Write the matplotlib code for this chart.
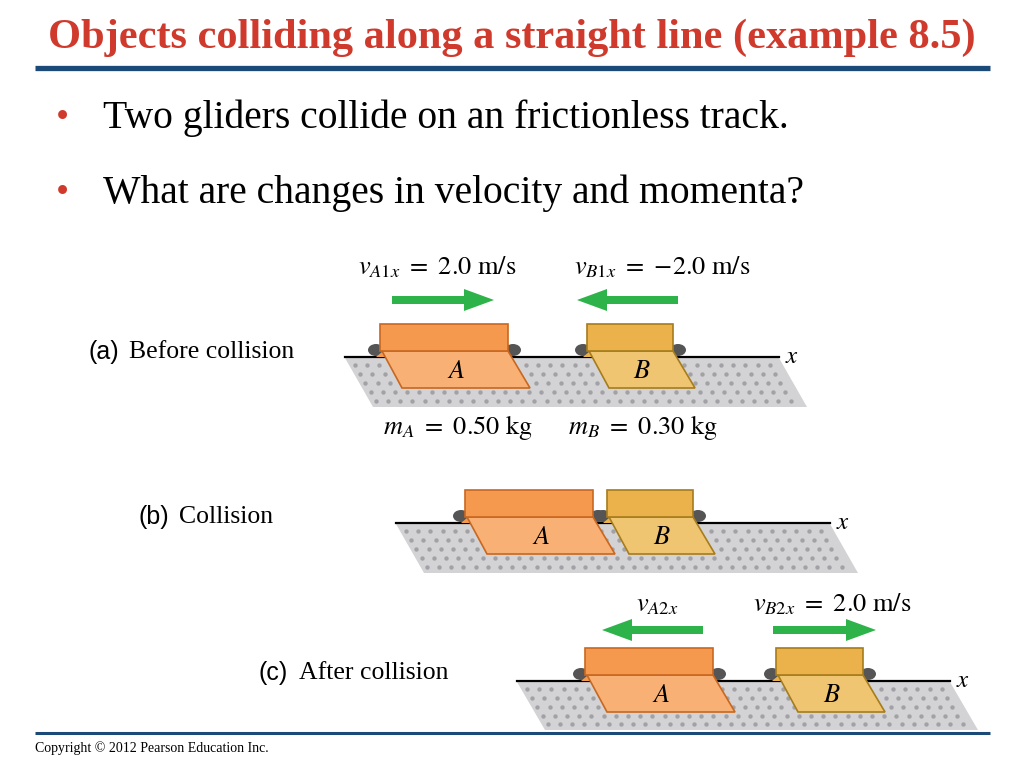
import matplotlib
matplotlib.use("Agg")
import matplotlib.pyplot as plt
from matplotlib.patches import Polygon, Rectangle, Ellipse, FancyArrow
import numpy as np

plt.rcParams['mathtext.fontset'] = 'stix'

# ---- content ----
title = "Objects colliding along a straight line (example 8.5)"
bullets = ["Two gliders collide on an frictionless track.",
           "What are changes in velocity and momenta?"]
panel_tags = ["(a)", "(b)", "(c)"]
panel_names = ["Before collision", "Collision", "After collision"]
masses = [0.50, 0.30]           # kg, A and B
v_before = [2.0, -2.0]          # m/s, A and B
v_after_B = 2.0                 # m/s
copyright_text = "Copyright \u00a9 2012 Pearson Education Inc."

RED = "#cf3a2d"
BLUE = "#1c4a78"
GREEN = "#2db34a"
A_TOP, A_LOW, A_EDGE = "#f5994f", "#f8b075", "#c9671f"
B_TOP, B_LOW, B_EDGE = "#ebb24c", "#f0c572", "#a67c1c"
GRAY, DOT = "#d3d3d5", "#a2a2a6"
BUMP = "#555555"

fig = plt.figure(figsize=(10.24, 7.68), dpi=100)
ax = fig.add_axes([0, 0, 1, 1])
ax.set_xlim(0, 1024)
ax.set_ylim(768, 0)
ax.axis('off')

serif = 'Liberation Serif'
sans = 'Liberation Sans'

# title + rules
ax.text(512, 38, title, ha='center', va='center', fontsize=30.5, color=RED,
        fontfamily=serif, fontweight='bold')
ax.plot([35, 990], [68, 68], color=BLUE, lw=3.8, solid_capstyle='butt')
ax.plot([35, 990], [733, 733], color=BLUE, lw=2.2, solid_capstyle='butt')
ax.text(35, 748, copyright_text, ha='left', va='center', fontsize=10,
        fontfamily=serif, color='black')

# bullets
for i, b in enumerate(bullets):
    y = 118 + 75 * i
    ax.text(62, y + 1, "\u2022", ha='center', va='center', fontsize=27, color=RED,
            fontfamily=serif)
    ax.text(103, y, b, ha='left', va='center', fontsize=28.5, fontfamily=serif)


def track(x0, x1, y, h=49, slant=28):
    poly = Polygon([[x0, y], [x1, y], [x1 + slant, y + h], [x0 + slant, y + h]],
                   closed=True, facecolor=GRAY, edgecolor='none', zorder=1)
    ax.add_patch(poly)
    pts = []
    k = slant / h
    for j in range(5):
        yy = y + 7 + j * (h - 10) / 4.3
        off = (yy - y) * k
        xs = np.arange(x0 + off + 6, x1 + off - 2, 12.2)
        for xx in xs:
            pts.append((xx, yy))
    pts = np.array(pts)
    ax.scatter(pts[:, 0], pts[:, 1], s=10, color=DOT, zorder=2, linewidths=0)
    ax.plot([x0, x1], [y - 1, y - 1], color='black', lw=1.6, zorder=3)
    ax.text(x1 + 13, y - 2, "$x$", ha='center', va='center', fontsize=18, zorder=3)


def glider(xl, w, ytrack, label, top, low, edge):
    ytop = ytrack - 34
    ymid = ytrack - 7
    ybot = ytrack + 30
    sl = 22
    # bumpers
    for bx in (xl - 4, xl + w + 5):
        ax.add_patch(Ellipse((bx, ymid - 1), 16, 12, facecolor=BUMP,
                             edgecolor='none', zorder=4))
    ax.add_patch(Polygon([[xl - 4, ytrack - 1], [xl + 2, ymid + 1], [xl + 6, ytrack - 1]],
                         closed=True, facecolor=top, edgecolor='none', zorder=4))
    ax.add_patch(Polygon([[xl + 2, ymid], [xl + w, ymid], [xl + w + sl, ybot],
                          [xl + sl, ybot]], closed=True, facecolor=low,
                         edgecolor=edge, lw=1.2, zorder=5))
    ax.add_patch(Rectangle((xl, ytop), w, ymid - ytop, facecolor=top,
                           edgecolor=edge, lw=1.2, zorder=6))
    ax.text(xl + w / 2 + 12, (ymid + ybot) / 2 + 1, f"${label}$", ha='center',
            va='center', fontsize=19, zorder=7)


def arrow(xs, xe, y):
    ax.add_patch(FancyArrow(xs, y, xe - xs, 0, width=8, head_width=22,
                            head_length=30, length_includes_head=True,
                            facecolor=GREEN, edgecolor='none', zorder=6))


# panel labels
label_pos = [(88, 352), (138, 517), (258, 673)]
for (lx, ly), tag, name in zip(label_pos, panel_tags, panel_names):
    ax.text(lx, ly, tag, ha='left', va='center', fontsize=18, fontfamily=sans)
    ax.text(lx + 41, ly, name, ha='left', va='center', fontsize=18.5, fontfamily=serif)

fs = 19


def vel(v):
    return f"{{-}}{abs(v):.1f}" if v < 0 else f"{v:.1f}"


# (a)
track(345, 779, 358)
glider(380, 128, 358, "A", A_TOP, A_LOW, A_EDGE)
glider(587, 86, 358, "B", B_TOP, B_LOW, B_EDGE)
arrow(392, 494, 300)
arrow(678, 577, 300)
ax.text(358, 267, rf"$v_{{A1x}}\ =\ {vel(v_before[0])}\ \mathrm{{m/s}}$",
        ha='left', va='center', fontsize=fs)
ax.text(574, 267, rf"$v_{{B1x}}\ =\ {vel(v_before[1])}\ \mathrm{{m/s}}$",
        ha='left', va='center', fontsize=fs)
ax.text(383, 428, rf"$m_A\ =\ {masses[0]:.2f}\ \mathrm{{kg}}$",
        ha='left', va='center', fontsize=fs)
ax.text(568, 428, rf"$m_B\ =\ {masses[1]:.2f}\ \mathrm{{kg}}$",
        ha='left', va='center', fontsize=fs)

# (b)
track(396, 830, 524)
glider(465, 128, 524, "A", A_TOP, A_LOW, A_EDGE)
glider(607, 86, 524, "B", B_TOP, B_LOW, B_EDGE)

# (c)
track(517, 950, 682, h=48)
glider(585, 128, 682, "A", A_TOP, A_LOW, A_EDGE)
glider(776, 87, 682, "B", B_TOP, B_LOW, B_EDGE)
arrow(703, 602, 630)
arrow(773, 876, 630)
ax.text(636, 604, r"$v_{A2x}$", ha='left', va='center', fontsize=fs)
ax.text(753, 604, rf"$v_{{B2x}}\ =\ {vel(v_after_B)}\ \mathrm{{m/s}}$",
        ha='left', va='center', fontsize=fs)

fig.savefig("out.png", dpi=100)
